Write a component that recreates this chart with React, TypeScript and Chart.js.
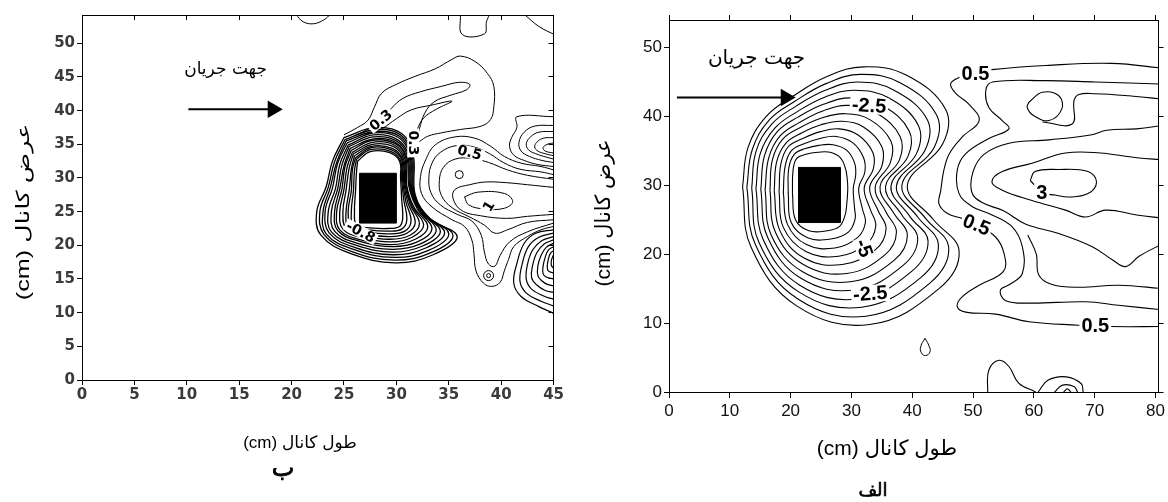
import React, { useEffect, useRef } from "react";
import { Chart, registerables } from "chart.js";
Chart.register(...registerables);

type P = [number, number];

// ---------- tick labels ----------
const leftXTicks = [0, 5, 10, 15, 20, 25, 30, 35, 40, 45];
const leftYTicks = [0, 5, 10, 15, 20, 25, 30, 35, 40, 45, 50];
const rightXTicks = [0, 10, 20, 30, 40, 50, 60, 70, 80];
const rightYTicks = [0, 10, 20, 30, 40, 50];

// ---------- texts ----------
const flowText = "جهت جریان";
const xTitleText = "(cm) طول کانال";
const yTitleText = "(cm) عرض کانال";
const leftPanelLetter = "ب";
const rightPanelLetter = "الف";

// ================= RIGHT PANEL (الف) =================
const rightBlock: P[] = [[21.3, 24.6], [28.2, 24.6], [28.2, 32.6], [21.3, 32.6], [21.3, 24.6]];
const rightArrow: P[] = [[1.3, 42.75], [19.2, 42.75]];
const rightFlowAnchor: P = [14.4, 48.4];

const ringR0: P[] = [[12.1,29.8],[13.0,35.5],[16.0,40.0],[20.5,43.0],[26.0,45.8],[32.0,47.2],[39.0,46.0],[45.5,41.0],[45.0,36.0],[39.2,30.0],[43.5,25.0],[47.7,20.5],[44.4,15.0],[33.0,9.8],[21.0,12.5],[13.5,21.0]];
const ringR1: P[] = [[12.8,29.7],[13.7,35.2],[16.5,39.5],[20.7,42.2],[25.9,44.8],[31.5,46.1],[38.0,44.9],[44.0,40.2],[43.6,35.5],[38.3,30.0],[42.2,25.2],[46.0,21.0],[42.9,15.8],[32.4,11.0],[21.2,13.5],[14.2,21.4]];
const ringR2: P[] = [[13.6,29.6],[14.3,34.9],[16.9,38.9],[20.9,41.5],[25.7,43.8],[31.0,45.0],[37.0,43.8],[42.5,39.5],[42.1,35.1],[37.4,29.9],[40.9,25.4],[44.3,21.4],[41.4,16.6],[31.7,12.3],[21.4,14.5],[14.8,21.7]];
const ringR3: P[] = [[14.3,29.5],[15.0,34.6],[17.4,38.3],[21.1,40.7],[25.6,42.8],[30.5,43.8],[36.1,42.7],[41.0,38.7],[40.7,34.6],[36.5,29.9],[39.6,25.5],[42.6,21.9],[39.9,17.5],[31.1,13.5],[21.5,15.5],[15.5,22.1]];
const ringR4: P[] = [[15.1,29.4],[15.7,34.3],[17.8,37.8],[21.2,39.9],[25.5,41.8],[30.0,42.7],[35.1,41.6],[39.5,37.9],[39.3,34.2],[35.6,29.8],[38.3,25.7],[40.9,22.3],[38.4,18.3],[30.5,14.8],[21.7,16.5],[16.2,22.5]];
const ringR5: P[] = [[15.8,29.3],[16.4,34.0],[18.3,37.2],[21.4,39.1],[25.3,40.8],[29.5,41.6],[34.1,40.5],[38.0,37.1],[37.9,33.7],[34.7,29.8],[37.0,25.9],[39.2,22.8],[37.0,19.1],[29.8,16.0],[21.9,17.5],[16.8,22.8]];
const ringR6: P[] = [[16.6,29.3],[17.0,33.7],[18.7,36.7],[21.6,38.4],[25.2,39.8],[29.0,40.4],[33.1,39.5],[36.5,36.4],[36.4,33.3],[33.9,29.7],[35.7,26.1],[37.4,23.2],[35.5,19.9],[29.2,17.2],[22.1,18.5],[17.5,23.2]];
const ringR7: P[] = [[17.3,29.2],[17.7,33.4],[19.2,36.1],[21.8,37.6],[25.0,38.8],[28.5,39.3],[32.1,38.4],[35.0,35.6],[35.0,32.8],[33.0,29.7],[34.4,26.3],[35.7,23.7],[34.0,20.7],[28.5,18.5],[22.3,19.4],[18.2,23.5]];
const ringR8: P[] = [[18.1,29.1],[18.4,33.1],[19.6,35.6],[22.0,36.8],[24.9,37.8],[28.0,38.2],[31.1,37.3],[33.5,34.8],[33.6,32.4],[32.1,29.6],[33.1,26.5],[34.0,24.1],[32.5,21.5],[27.9,19.7],[22.5,20.4],[18.8,23.9]];
const ringR9: P[] = [[18.8,29.0],[19.1,32.8],[20.1,35.0],[22.1,36.0],[24.8,36.8],[27.5,37.1],[30.2,36.2],[32.0,34.0],[32.2,31.9],[31.2,29.6],[31.8,26.6],[32.3,24.6],[31.0,22.4],[27.3,20.9],[22.6,21.4],[19.5,24.3]];
const ringR10: P[] = [[19.6,28.9],[19.7,32.5],[20.6,34.5],[22.3,35.3],[24.6,35.8],[27.0,35.9],[29.2,35.1],[30.5,33.3],[30.7,31.5],[30.3,29.5],[30.5,26.8],[30.6,25.1],[29.5,23.2],[26.6,22.2],[22.8,22.4],[20.1,24.6]];
const ringR11: P[] = [[20.3,28.8],[20.4,32.2],[21.0,33.9],[22.5,34.5],[24.5,34.8],[26.5,34.8],[28.2,34.0],[29.0,32.5],[29.3,31.0],[29.4,29.5],[29.2,27.0],[28.9,25.5],[28.0,24.0],[26.0,23.4],[23.0,23.4],[20.8,25.0]];

const wakeA: P[] = [[81.3,47.0],[72.8,47.7],[62.0,47.4],[53.1,46.8],[50.4,46.3],[47.6,45.6],[46.3,44.7],[47.2,43.3],[49.3,41.8],[51.0,39.4],[48.2,37.0],[46.1,34.6],[45.2,32.2],[44.7,29.3],[44.4,27.3],[45.8,25.9],[48.2,25.2],[50.6,24.3],[53.7,22.5],[55.1,20.1],[55.0,17.5],[51.0,15.5],[48.2,13.8],[47.4,12.4],[48.8,11.6],[53.7,11.3],[59.2,10.2],[67.4,9.7],[72.5,9.5],[81.3,9.5]];
const wakeB: P[] = [[81.3,44.7],[70.1,45.0],[61.9,45.2],[53.2,45.0],[52.1,43.8],[52.6,41.3],[54.8,39.4],[55.9,38.2],[52.6,36.8],[48.8,34.6],[47.4,32.2],[47.7,28.8],[49.9,26.9],[52.6,25.9],[56.4,24.0],[58.1,21.1],[58.1,17.2],[56.0,15.6],[54.5,14.8],[55.3,13.3],[59.2,12.9],[68.5,13.1],[73.9,12.6],[81.3,11.9]];
const wakeC: P[] = [[81.3,42.5],[75.6,43.0],[70.1,43.3],[67.4,43.2],[66.6,42.3],[66.3,38.9],[61.4,39.2]];
const wakeIsland: P[] = [[59.2,42.1],[61.4,43.5],[64.1,43.0],[64.6,41.1],[62.5,39.4],[60.0,40.1],[58.9,41.3]];
const wakeD: P[] = [[81.3,38.7],[76.9,38.2],[72.0,38.0],[69.3,37.3],[62.5,36.6],[55.9,36.1],[51.8,34.5],[50.0,32.0],[49.8,29.0],[51.5,27.5],[55.0,26.3],[58.6,24.4],[64.1,23.0],[69.6,21.1],[72.9,19.2],[75.1,18.2],[77.3,19.7],[81.3,21.6]];
const wakeE: P[] = [[81.3,33.7],[76.9,34.0],[70.9,34.7],[65.2,34.7],[59.7,33.2],[54.8,32.0],[53.1,30.5],[54.8,29.3],[59.7,27.8],[65.2,26.4],[68.5,25.4],[71.8,26.4],[76.9,25.7],[81.3,25.2]];
const wakeCore3: P[] = [[59.4,30.7],[60.2,32.0],[64.0,32.3],[68.9,32.0],[70.3,30.5],[68.9,28.8],[65.7,28.3],[63.5,28.6],[61.5,28.9]];
const wakeF: P[] = [[59.0,22.8],[60.4,20.0],[60.8,17.0],[63.0,15.6],[67.4,15.2],[73.9,15.5],[81.3,15.0]];
const bottomLobe: P[] = [[52.4,0],[52.6,3.2],[54.3,4.6],[55.9,3.7],[57.5,1.3],[60.3,0]];
const bottomArc1: P[] = [[60.7,0],[62.3,1.7],[65.3,2.2],[67.8,1.2],[68.1,0]];
const bottomArc2: P[] = [[63.4,0],[64.7,1.0],[66.6,0.8],[67.2,0]];
const bottomArc3: P[] = [[64.9,0],[65.5,0.45],[66.1,0]];
const smallLoop: P[] = [[42.1,7.8],[42.8,6.6],[42.9,5.8],[42.2,5.3],[41.5,5.7],[41.4,6.6]];

const rightLabelText = ["0.5", "0.5", "0.5", "3", "-2.5", "-2.5", "-5"];
const rightLabelAt: P[] = [[50.4,46.2],[50.6,24.3],[70.1,9.7],[61.3,29.0],[32.9,41.6],[33.1,14.3],[32.1,20.9]];
const rightLabelRot = [0, 22, 0, 0, 4, -4, 70];

// ================= LEFT PANEL (ب) =================
const leftBlock: P[] = [[26.5,23.3],[30.0,23.3],[30.0,30.7],[26.5,30.7],[26.5,23.3]];
const leftArrow: P[] = [[10.15,40.2],[18.2,40.2]];
const leftFlowAnchor: P = [13.7, 46.1];

const ringL0: P[] = [[25.0,36.0],[23.9,32.5],[23.3,28.7],[22.4,25.0],[22.8,21.5],[25.6,18.8],[29.9,17.4],[33.5,18.6],[35.8,21.3],[33.2,24.0],[31.8,27.5],[31.6,33.5],[30.5,36.6],[28.0,37.5]];
const ringL1: P[] = [[25.1,35.7],[24.1,32.4],[23.5,28.6],[22.7,25.0],[23.1,21.6],[25.7,19.1],[29.8,17.8],[33.3,18.9],[35.4,21.5],[33.0,24.2],[31.7,27.7],[31.5,33.4],[30.4,36.4],[28.0,37.2]];
const ringL2: P[] = [[25.2,35.5],[24.3,32.3],[23.7,28.6],[23.0,25.0],[23.3,21.7],[25.9,19.4],[29.8,18.2],[33.0,19.2],[35.0,21.7],[32.8,24.5],[31.6,27.9],[31.4,33.3],[30.3,36.2],[27.9,36.9]];
const ringL3: P[] = [[25.3,35.2],[24.4,32.2],[23.9,28.5],[23.2,25.0],[23.6,21.8],[26.0,19.7],[29.7,18.6],[32.8,19.6],[34.6,21.9],[32.6,24.7],[31.5,28.1],[31.3,33.3],[30.2,36.0],[27.9,36.7]];
const ringL4: P[] = [[25.4,34.9],[24.6,32.0],[24.2,28.5],[23.5,25.0],[23.8,22.0],[26.2,20.0],[29.7,19.0],[32.5,19.9],[34.2,22.1],[32.4,24.9],[31.4,28.3],[31.2,33.2],[30.1,35.7],[27.8,36.4]];
const ringL5: P[] = [[25.5,34.7],[24.8,31.9],[24.4,28.4],[23.8,25.0],[24.1,22.1],[26.3,20.3],[29.6,19.4],[32.3,20.2],[33.8,22.3],[32.2,25.2],[31.3,28.5],[31.1,33.1],[30.0,35.5],[27.8,36.1]];
const ringL6: P[] = [[25.6,34.4],[25.0,31.8],[24.6,28.4],[24.1,25.0],[24.4,22.2],[26.5,20.6],[29.6,19.8],[32.0,20.5],[33.4,22.5],[32.0,25.4],[31.2,28.7],[31.0,33.0],[29.9,35.3],[27.8,35.8]];
const ringL7: P[] = [[25.7,34.1],[25.1,31.7],[24.8,28.3],[24.3,25.0],[24.6,22.3],[26.6,20.8],[29.5,20.1],[31.8,20.9],[33.0,22.8],[31.7,25.6],[31.0,28.8],[30.9,33.0],[29.9,35.1],[27.7,35.6]];
const ringL8: P[] = [[25.8,33.8],[25.3,31.6],[25.0,28.3],[24.6,25.0],[24.9,22.4],[26.8,21.1],[29.5,20.5],[31.5,21.2],[32.6,23.0],[31.5,25.8],[30.9,29.0],[30.8,32.9],[29.8,34.9],[27.7,35.3]];
const ringL9: P[] = [[25.9,33.6],[25.5,31.5],[25.2,28.2],[24.9,25.0],[25.2,22.5],[26.9,21.4],[29.4,20.9],[31.3,21.5],[32.2,23.2],[31.3,26.1],[30.8,29.2],[30.7,32.8],[29.7,34.7],[27.7,35.0]];
const ringL10: P[] = [[26.0,33.3],[25.7,31.3],[25.5,28.2],[25.2,25.0],[25.4,22.7],[27.1,21.7],[29.4,21.3],[31.0,21.8],[31.8,23.4],[31.1,26.3],[30.7,29.4],[30.6,32.7],[29.6,34.4],[27.6,34.7]];
const ringL11: P[] = [[26.1,33.0],[25.8,31.2],[25.7,28.1],[25.4,25.0],[25.7,22.8],[27.2,22.0],[29.3,21.7],[30.8,22.1],[31.4,23.6],[30.9,26.5],[30.6,29.6],[30.5,32.7],[29.5,34.2],[27.6,34.5]];
const ringL12: P[] = [[26.2,32.8],[26.0,31.1],[25.9,28.1],[25.7,25.0],[25.9,22.9],[27.4,22.3],[29.3,22.1],[30.5,22.4],[31.0,23.8],[30.7,26.8],[30.5,29.8],[30.4,32.6],[29.4,34.0],[27.5,34.2]];
const ringL13: P[] = [[26.3,32.5],[26.2,31.0],[26.1,28.0],[26.0,25.0],[26.2,23.0],[27.5,22.6],[29.2,22.5],[30.3,22.8],[30.6,24.0],[30.5,27.0],[30.4,30.0],[30.3,32.5],[29.3,33.8],[27.5,33.9]];

const upperU0: P[] = [[25.0,36.4],[26.3,37.5],[27.3,38.6],[27.9,40.5],[28.6,42.6],[30.0,43.9],[31.8,45.1],[33.7,46.2],[35.3,47.6],[36.1,48.1],[37.5,47.3],[38.7,45.5],[39.3,43.6],[39.3,40.6],[39.0,38.7],[38.1,37.7],[36.1,37.2],[34.3,36.7],[33.0,36.2],[32.2,35.4]];
const upperU1: P[] = [[26.0,36.3],[27.5,37.4],[28.6,38.6],[29.5,40.3],[30.6,41.8],[32.3,42.8],[34.3,43.6],[36.0,44.2],[37.0,43.9],[36.7,43.1],[35.2,42.3],[33.6,41.3],[32.7,39.6],[32.2,37.3],[31.9,35.6]];
const upperU2: P[] = [[27.0,36.4],[28.6,37.3],[30.0,38.8],[31.4,40.1],[33.3,40.8],[35.3,41.4],[33.8,40.2],[32.6,38.9],[32.0,37.2],[31.8,35.8]];

const edgeT1: P[] = [[20.4,54.3],[21.1,53.2],[22.1,52.9],[23.1,53.5],[23.7,54.3]];
const edgeT2: P[] = [[36.1,54.3],[36.3,51.3],[38.4,51.4],[38.6,53.2],[38.9,54.3]];
const edgeT3: P[] = [[42.2,54.3],[43.6,52.5],[45.2,51.2]];

const eastM0: P[] = [[45.0,31.2],[43.8,31.7],[41.9,32.2],[40.3,33.2],[39.0,34.7],[37.5,35.9],[35.6,36.1],[33.7,34.9],[32.8,32.7],[32.3,30.2],[32.4,27.7],[33.4,25.7],[35.3,23.8],[36.5,22.8],[37.2,20.8],[37.4,18.8],[37.6,16.2],[38.3,14.4],[39.1,13.9],[39.9,14.5],[40.3,16.2],[40.7,17.9],[41.2,19.8],[42.5,21.3],[43.8,22.3],[45.0,22.8]];
const eastM1: P[] = [[45.0,30.5],[43.8,30.9],[41.8,31.3],[40.2,32.3],[38.9,33.6],[37.4,34.6],[35.7,34.8],[34.2,33.8],[33.4,32.2],[33.1,30.0],[33.3,27.8],[34.2,26.0],[35.8,24.6],[37.2,23.6],[38.1,21.5],[38.4,19.0],[38.8,17.2],[39.4,16.9],[39.9,18.5],[40.8,20.5],[42.5,22.0],[45.0,23.3]];
const eastM2: P[] = [[45.0,29.8],[42.5,30.4],[40.6,31.2],[38.8,32.3],[37.2,32.9],[35.6,32.8],[34.5,31.6],[34.1,29.6],[34.3,27.4],[35.3,25.6],[37.0,24.2],[38.4,23.0],[39.4,21.8],[40.6,22.3],[42.5,23.4],[45.0,23.8]];
const eastM3: P[] = [[45.0,28.6],[42.5,29.0],[40.5,29.3],[38.5,29.4],[37.0,29.0],[35.6,28.3],[35.4,27.0],[36.2,25.2],[38.0,24.4],[40.5,24.0],[42.5,24.3],[45.0,24.6]];
const eastCore1: P[] = [[36.5,27.2],[37.8,27.9],[40.3,27.7],[41.1,26.5],[40.3,25.5],[38.4,25.4],[36.9,26.0]];
const leftDots: P[] = [[36.0,30.5]];
const stemRings: P[] = [[38.8,15.5]];

const topRightUR0: P[] = [[45.0,39.1],[41.5,39.1],[41.5,37.5],[41.0,36.0],[40.8,34.7],[41.2,33.4],[42.2,32.6],[43.5,32.0],[45.0,31.7]];
const topRightUR1: P[] = [[45.0,37.8],[43.2,37.7],[42.2,36.8],[41.7,35.3],[41.9,34.0],[42.7,33.2],[43.9,32.6],[45.0,32.3]];
const topRightUR2: P[] = [[45.0,36.9],[43.6,36.8],[42.8,36.1],[42.4,35.1],[42.6,34.2],[43.3,33.6],[44.3,33.1],[45.0,32.8]];
const topRightUR3: P[] = [[45.0,36.0],[44.0,35.9],[43.4,35.3],[43.2,34.6],[43.5,34.0],[44.2,33.6],[45.0,33.3]];
const topRightUR4: P[] = [[45.0,35.2],[44.4,35.0],[44.0,34.5],[44.2,34.0],[45.0,33.7]];

const lowRightBR0: P[] = [[45,22.3],[43.3,21.8],[42.2,20.3],[41.5,17.3],[41.2,14.4],[41.9,12.4],[43.6,10.9],[45,9.9]];
const lowRightBR1: P[] = [[45,21.8],[43.6,21.2],[42.6,19.8],[42.0,17.2],[41.8,14.6],[42.4,12.9],[43.8,11.7],[45,11.0]];
const lowRightBR2: P[] = [[45,21.3],[43.9,20.7],[43.0,19.3],[42.5,17.1],[42.4,14.9],[42.9,13.5],[44.0,12.5],[45,12.0]];
const lowRightBR3: P[] = [[45,20.8],[44.1,20.2],[43.4,18.9],[43.0,17.0],[42.9,15.2],[43.4,14.1],[44.2,13.3],[45,13.0]];
const lowRightBR4: P[] = [[45,20.3],[44.3,19.7],[43.8,18.5],[43.5,16.9],[43.5,15.5],[43.9,14.7],[44.4,14.2],[45,14.0]];
const lowRightBR5: P[] = [[45,19.8],[44.5,19.3],[44.2,18.2],[44.0,16.9],[44.0,15.8],[44.3,15.3],[45,15.0]];
const lowRightBR6: P[] = [[45,19.2],[44.7,18.8],[44.5,17.9],[44.4,16.9],[44.5,16.2],[45,15.9]];
const lowRightBR7: P[] = [[45,18.6],[44.8,17.8],[44.8,17.0],[45,16.6]];

const leftLabelText = ["0.3", "0.3", "-0.8", "0.5", "1"];
const leftLabelAt: P[] = [[28.5,38.6],[31.6,35.2],[26.6,22.0],[37.0,33.8],[38.8,25.8]];
const leftLabelRot = [-40, 90, 28, 15, -60];

// ---------- helpers ----------
const closeLoop = (p: P[]): P[] => [...p, p[0]];
const toXY = (p: P[]) => p.map(([x, y]) => ({ x, y }));

function lineSet(points: P[], extra: any = {}) {
  return {
    data: toXY(points),
    showLine: true,
    borderColor: "#000",
    borderWidth: 1,
    pointRadius: 0,
    tension: 0.4,
    fill: false,
    ...extra,
  };
}

function blockSet(points: P[]) {
  return lineSet(points, { tension: 0, backgroundColor: "#000", fill: "shape", borderWidth: 1 });
}

function arrowSet(points: P[]) {
  return lineSet(points, {
    tension: 0,
    borderWidth: 2,
    pointRadius: [0, 8],
    pointStyle: "triangle",
    pointRotation: 90,
    pointBackgroundColor: "#000",
    pointBorderColor: "#000",
  });
}

function dotSet(points: P[], r: number) {
  return {
    data: toXY(points),
    showLine: false,
    pointRadius: r,
    pointBorderColor: "#000",
    pointBorderWidth: 1,
    pointBackgroundColor: "rgba(255,255,255,0)",
  };
}

type Frame = {
  xMax: number; yMax: number; xTicks: number[]; yTicks: number[];
  leftW: number; rightW: number; topH: number; bottomH: number;
  tickFont: any; tickColor: string; xPad: number; yPad: number;
  tickX: number; tickY: number; tickTop: number; tickRight: number;
};

function frameScales(f: Frame) {
  const grid = (len: number) => ({ drawOnChartArea: false, drawTicks: true, tickLength: len, color: "#000", tickColor: "#000", lineWidth: 1 });
  const border = { display: true, color: "#000", width: 1 };
  return {
    x: {
      type: "linear", position: "bottom", min: 0, max: f.xMax,
      afterBuildTicks: (s: any) => { s.ticks = f.xTicks.map((v) => ({ value: v })); },
      afterFit: (s: any) => { s.height = f.bottomH; },
      ticks: { font: f.tickFont, color: f.tickColor, padding: f.xPad, maxRotation: 0, autoSkip: false },
      grid: grid(f.tickX), border,
    },
    y: {
      type: "linear", position: "left", min: 0, max: f.yMax,
      afterBuildTicks: (s: any) => { s.ticks = f.yTicks.map((v) => ({ value: v })); },
      afterFit: (s: any) => { s.width = f.leftW; },
      ticks: { font: f.tickFont, color: f.tickColor, padding: f.yPad, autoSkip: false },
      grid: grid(f.tickY), border,
    },
    x2: {
      type: "linear", position: "top", min: 0, max: f.xMax,
      afterBuildTicks: (s: any) => { s.ticks = f.xTicks.map((v) => ({ value: v })); },
      afterFit: (s: any) => { s.height = f.topH; },
      ticks: { display: false },
      grid: grid(f.tickTop), border,
    },
    y2: {
      type: "linear", position: "right", min: 0, max: f.yMax,
      afterBuildTicks: (s: any) => { s.ticks = f.yTicks.map((v) => ({ value: v })); },
      afterFit: (s: any) => { s.width = f.rightW; },
      ticks: { display: false },
      grid: grid(f.tickRight), border,
    },
  };
}

function contourLabels(texts: string[], at: P[], rots: number[], font: string, flow: P, flowFont: string) {
  return {
    id: "contourLabels",
    afterDatasetsDraw(chart: any) {
      const { ctx } = chart;
      const xs = chart.scales.x, ys = chart.scales.y;
      ctx.save();
      ctx.textAlign = "center";
      ctx.textBaseline = "middle";
      ctx.font = font;
      const size = parseFloat(font.match(/(\d+)px/)![1]);
      texts.forEach((t, i) => {
        const px = xs.getPixelForValue(at[i][0]);
        const py = ys.getPixelForValue(at[i][1]);
        ctx.save();
        ctx.translate(px, py);
        ctx.rotate((rots[i] * Math.PI) / 180);
        const w = ctx.measureText(t).width;
        const h = size * 0.85;
        ctx.fillStyle = "#fff";
        ctx.fillRect(-w / 2 - 2, -h / 2, w + 4, h);
        ctx.fillStyle = "#000";
        ctx.fillText(t, 0, 1);
        ctx.restore();
      });
      ctx.font = flowFont;
      ctx.fillStyle = "#000";
      ctx.fillText(flowText, xs.getPixelForValue(flow[0]), ys.getPixelForValue(flow[1]));
      ctx.restore();
    },
  };
}

type Txt = { text: string; px: number; py: number; font: string; rot?: number; sx?: number; bold?: number };
function panelTexts(items: Txt[]) {
  return {
    id: "panelTexts",
    afterDraw(chart: any) {
      const ctx = chart.ctx;
      for (const t of items) {
        ctx.save();
        ctx.translate(t.px, t.py);
        if (t.rot) ctx.rotate((t.rot * Math.PI) / 180);
        if (t.sx) ctx.scale(t.sx, 1);
        ctx.font = t.font;
        ctx.fillStyle = "#000";
        ctx.strokeStyle = "#000";
        ctx.textAlign = "center";
        ctx.textBaseline = "middle";
        ctx.fillText(t.text, 0, 0);
        if (t.bold) {
          ctx.lineWidth = t.bold;
          ctx.strokeText(t.text, 0, 0);
        }
        ctx.restore();
      }
    },
  };
}

const persian = '"DejaVu Sans", "Noto Sans", sans-serif';
const mixed = '"Liberation Sans", "DejaVu Sans", sans-serif';

function leftConfig(): any {
  const rings = [ringL0, ringL1, ringL2, ringL3, ringL4, ringL5, ringL6, ringL7, ringL8, ringL9, ringL10, ringL11, ringL12, ringL13];
  const open = [upperU0, upperU1, upperU2, edgeT1, edgeT2, edgeT3, eastM0, eastM1, eastM2, eastM3,
    topRightUR0, topRightUR1, topRightUR2, topRightUR3, topRightUR4];
  const dense = [lowRightBR0, lowRightBR1, lowRightBR2, lowRightBR3, lowRightBR4, lowRightBR5, lowRightBR6, lowRightBR7];
  const datasets: any[] = [
    blockSet(leftBlock),
    arrowSet(leftArrow),
    ...rings.map((r) => lineSet(closeLoop(r), { borderWidth: 1.3 })),
    ...open.map((r) => lineSet(r)),
    ...dense.map((r) => lineSet(r, { borderWidth: 1.2 })),
    lineSet(closeLoop(eastCore1)),
    dotSet(leftDots, 4),
    dotSet(stemRings, 5),
    dotSet(stemRings, 2),
  ];
  return {
    type: "scatter",
    data: { datasets },
    options: {
      responsive: false, animation: false, devicePixelRatio: 1,
      layout: { padding: 0, autoPadding: false },
      plugins: { legend: { display: false }, tooltip: { enabled: false }, title: { display: false } },
      scales: frameScales({
        xMax: 45, yMax: 54.2, xTicks: leftXTicks, yTicks: leftYTicks,
        leftW: 82, rightW: 5, topH: 15, bottomH: 122,
        tickFont: { family: '"DejaVu Sans", sans-serif', size: 15, weight: "bold" }, tickColor: "#3a3a3a",
        xPad: 1, yPad: 2, tickX: 5, tickY: 5, tickTop: -5, tickRight: -5,
      }),
    },
    plugins: [
      contourLabels(leftLabelText, leftLabelAt, leftLabelRot, 'bold 14px "DejaVu Sans"', leftFlowAnchor, `17px ${persian}`),
      panelTexts([
        { text: xTitleText, px: 300, py: 443, font: `17px ${mixed}` },
        { text: leftPanelLetter, px: 283, py: 470, font: `24px ${persian}`, bold: 0.8 },
        { text: yTitleText, px: 24, py: 212, font: `18px ${mixed}`, rot: -90, sx: 1.4 },
      ]),
    ],
  };
}

function rightConfig(): any {
  const rings = [ringR0, ringR1, ringR2, ringR3, ringR4, ringR5, ringR6, ringR7, ringR8, ringR9, ringR10, ringR11];
  const open = [wakeA, wakeB, wakeC, wakeD, wakeE, wakeF, bottomLobe, bottomArc1, bottomArc2, bottomArc3];
  const datasets: any[] = [
    blockSet(rightBlock),
    arrowSet(rightArrow),
    ...rings.map((r) => lineSet(closeLoop(r), { borderWidth: 1.1 })),
    ...open.map((r) => lineSet(r, { borderWidth: 1.1 })),
    lineSet(closeLoop(wakeIsland), { borderWidth: 1.1 }),
    lineSet(closeLoop(wakeCore3), { borderWidth: 1.1 }),
    lineSet(closeLoop(smallLoop), { tension: 0.5 }),
  ];
  return {
    type: "scatter",
    data: { datasets },
    options: {
      responsive: false, animation: false, devicePixelRatio: 1,
      layout: { padding: 0, autoPadding: false },
      plugins: { legend: { display: false }, tooltip: { enabled: false }, title: { display: false } },
      scales: frameScales({
        xMax: 80.5, yMax: 54, xTicks: rightXTicks, yTicks: rightYTicks,
        leftW: 89, rightW: 8, topH: 20, bottomH: 110,
        tickFont: { family: '"Liberation Sans Narrow", "Arial Narrow", "Liberation Sans", sans-serif', size: 17 }, tickColor: "#111",
        xPad: 3, yPad: 2, tickX: 6, tickY: 5, tickTop: 5, tickRight: 5,
      }),
    },
    plugins: [
      contourLabels(rightLabelText, rightLabelAt, rightLabelRot, 'bold 20px "Liberation Sans Narrow", "Liberation Sans", sans-serif', rightFlowAnchor, `20px ${persian}`),
      panelTexts([
        { text: xTitleText, px: 307, py: 449, font: `21px ${mixed}` },
        { text: rightPanelLetter, px: 293, py: 491, font: `18px ${persian}`, bold: 0.7 },
        { text: yTitleText, px: 24, py: 213, font: `21px ${mixed}`, rot: -90 },
      ]),
    ],
  };
}

export default function App() {
  const leftRef = useRef<HTMLCanvasElement>(null);
  const rightRef = useRef<HTMLCanvasElement>(null);
  useEffect(() => {
    const a = new Chart(leftRef.current!, leftConfig());
    const b = new Chart(rightRef.current!, rightConfig());
    return () => {
      a.destroy();
      b.destroy();
    };
  }, []);
  return (
    <div style={{ position: "fixed", left: 0, top: 0, width: 1168, height: 502, background: "#fff" }}>
      <canvas ref={leftRef} width={565} height={502} style={{ position: "absolute", left: 0, top: 0 }} />
      <canvas ref={rightRef} width={588} height={502} style={{ position: "absolute", left: 580, top: 0 }} />
    </div>
  );
}
